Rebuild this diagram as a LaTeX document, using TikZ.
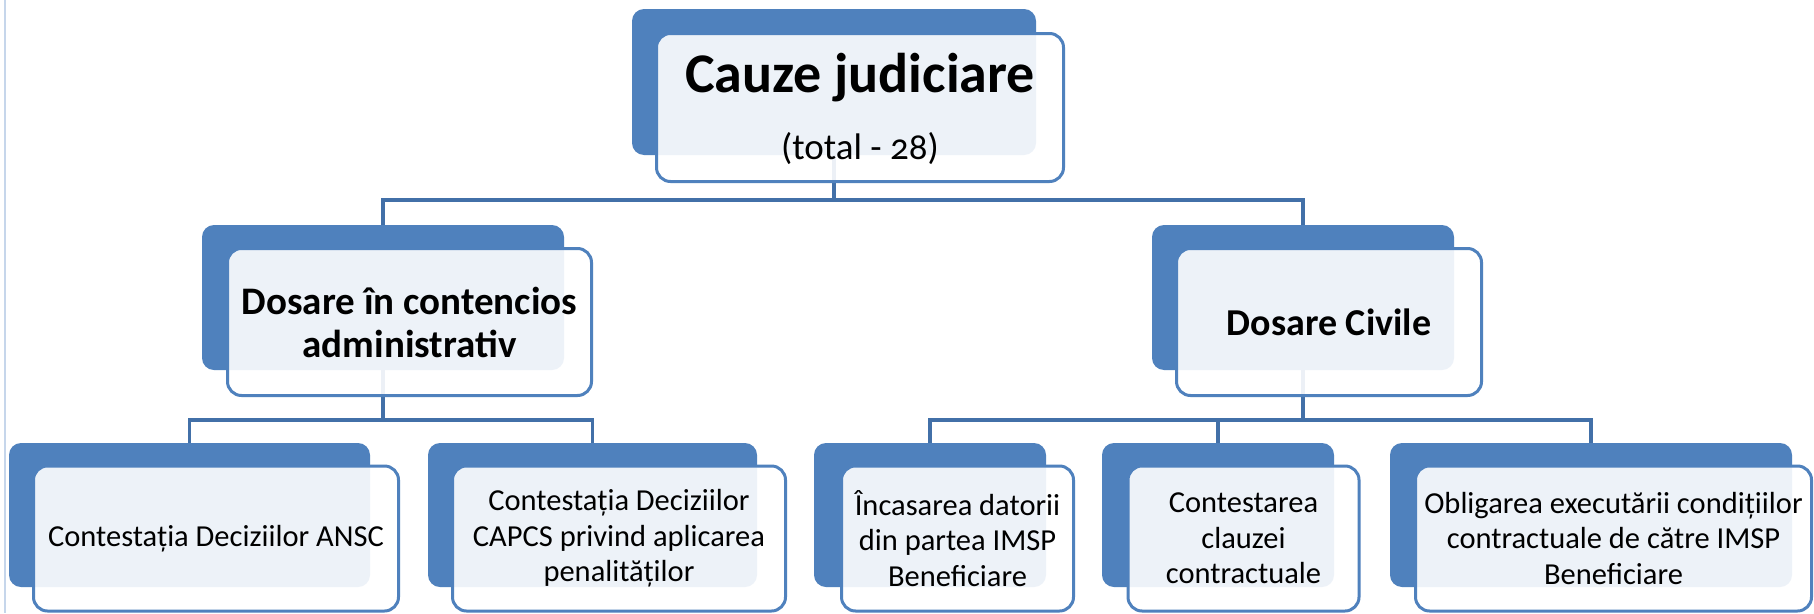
\documentclass[tikz,border=0pt]{standalone}
\usepackage{fontspec}
\setmainfont{Carlito}
\definecolor{accent}{HTML}{4F81BD}
\definecolor{connclr}{HTML}{4270A8}
\definecolor{edgeclr}{HTML}{C6D6EB}
\begin{document}
\begin{tikzpicture}[x=1pt,y=-1pt,
  backbox/.style={fill=accent, rounded corners=12pt, inner sep=0pt},
  frontbox/.style={fill=white, fill opacity=0.9, text opacity=1, draw=accent, line width=3pt, rounded corners=14pt, inner sep=0pt, align=center},
  connector/.style={draw=connclr, line width=3.3pt},
  lvlthree/.style={font=\fontsize{30.5}{35.5}\selectfont},
  lvltwo/.style={font=\fontsize{39}{43}\selectfont\bfseries}]
\useasboundingbox (0,0) rectangle (1814,613);
\fill[white] (0,0) rectangle (1814,613);
\draw[edgeclr, line width=2pt] (5,0) -- (5,613);

% back boxes
\node[backbox, minimum width=404pt, minimum height=146pt] (b0) at (834,82) {};
\node[backbox, minimum width=362pt, minimum height=145pt] (b1) at (383,297.5) {};
\node[backbox, minimum width=302pt, minimum height=145pt] (b2) at (1303,297.5) {};
\node[backbox, minimum width=361pt, minimum height=144pt] (b3) at (189.5,515) {};
\node[backbox, minimum width=329pt, minimum height=144pt] (b4) at (592.5,515) {};
\node[backbox, minimum width=232pt, minimum height=144pt] (b5) at (930,515) {};
\node[backbox, minimum width=232pt, minimum height=144pt] (b6) at (1218,515) {};
\node[backbox, minimum width=402pt, minimum height=144pt] (b7) at (1591,515) {};

% connectors
\draw[connector] (b0.south) -- (b0.south |- 0,200) coordinate (h0);
\draw[connector] (b1.north) |- (h0) -| (b2.north);
\draw[connector] (b1.south) -- (b1.south |- 0,420) coordinate (h1);
\draw[connector] (b3.north) |- (h1) -| (b4.north);
\draw[connector] (b2.south) -- (b2.south |- 0,420) coordinate (h2);
\draw[connector] (b5.north) |- (h2) -| (b7.north);
\draw[connector] (b6.north) -- (b6.north |- h2);

% front boxes
\node[frontbox, minimum width=407pt, minimum height=148pt] (f0) at (860,107.5) {};
\node[anchor=base, font=\fontsize{56}{60}\selectfont\bfseries] (t0) at (860,92) {Cauze judiciare};
\node[anchor=base, font=\fontsize{37}{44}\selectfont] (t0b) at (860,159) {(total - {\addfontfeature{Numbers=OldStyle}28})};

\node[frontbox, lvltwo, minimum width=364pt, minimum height=147pt] (f1) at (409.5,322) {Dosare în contencios\\administrativ};
\node[frontbox, font=\fontsize{38}{42}\selectfont\bfseries, minimum width=305pt, minimum height=147pt] (f2) at (1329,322) {Dosare Civile};

\node[frontbox, lvlthree, minimum width=365pt, minimum height=145pt] (f3) at (216,538.5) {Contestația Deciziilor ANSC};
\node[frontbox, lvlthree, minimum width=333pt, minimum height=145pt] (f4) at (619,538.5) {Contestația Deciziilor\\CAPCS privind aplicarea\\penalităților};
\node[frontbox, lvlthree, minimum width=232pt, minimum height=145pt] (f5) at (957.5,538.5) {Încasarea datorii\\din partea IMSP\\Beneficiare};
\node[frontbox, lvlthree, minimum width=231pt, minimum height=145pt] (f6) at (1243.5,538.5) {Contestarea\\clauzei\\contractuale};
\node[frontbox, lvlthree, minimum width=396pt, minimum height=145pt] (f7) at (1613.5,538.5) {Obligarea executării condițiilor\\contractuale de către IMSP\\Beneficiare};
\end{tikzpicture}
\end{document}
